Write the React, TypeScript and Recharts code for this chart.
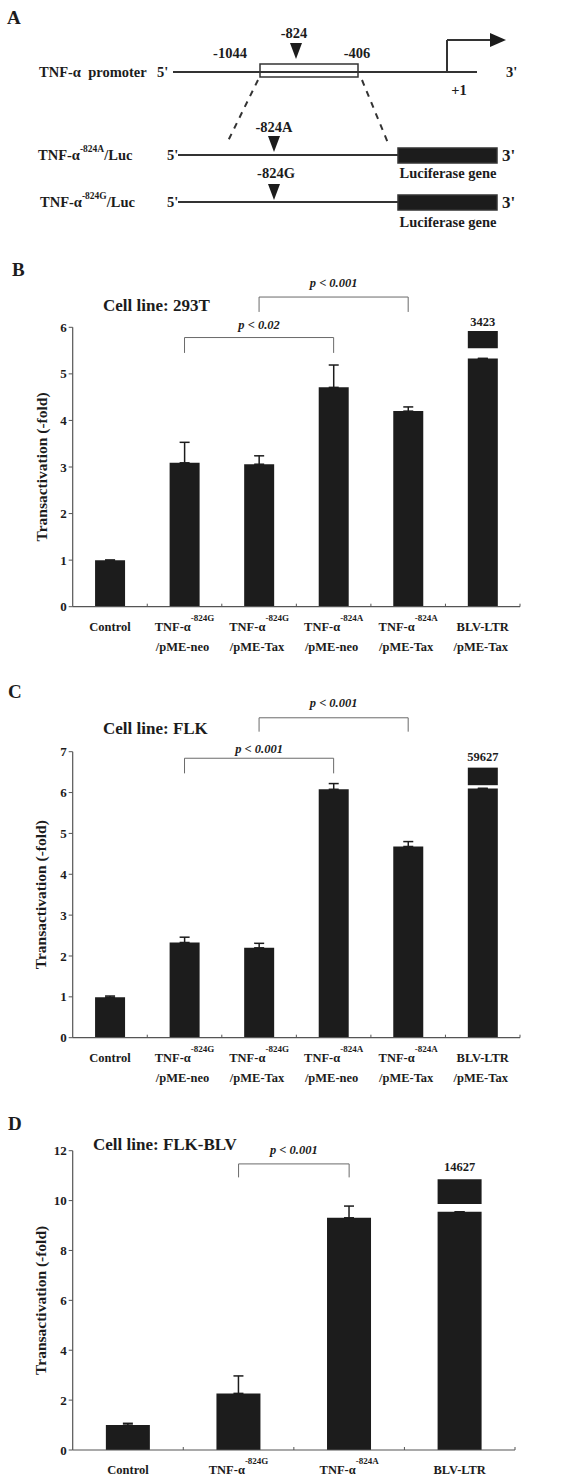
import React from "react";
import {
  BarChart,
  Bar,
  XAxis,
  YAxis,
  ErrorBar,
  LabelList,
  ReferenceLine,
  ReferenceArea,
  ReferenceDot,
  ComposedChart,
} from "recharts";

const FONT = "'Liberation Serif', 'Times New Roman', serif";
const INK = "#1c1c1c";
const AXIS = "#555";
const BRACKET = "#6a6a6a";

// ---------- panel A: construct schematic, laid out on a 576 x 240 grid ----------
const schemeLines = [
  { x1: 173, y1: 72, x2: 477, y2: 72 },
  { x1: 178, y1: 155, x2: 398, y2: 155 },
  { x1: 178, y1: 202, x2: 398, y2: 202 },
  { x1: 447, y1: 72, x2: 447, y2: 40 },
  { x1: 447, y1: 40, x2: 492, y2: 40 },
];
const schemeDashes = [
  { x1: 258, y1: 80, x2: 227, y2: 143 },
  { x1: 362, y1: 80, x2: 388, y2: 143 },
];
const schemeBoxes = [
  { x1: 260, x2: 358, y1: 64, y2: 77, fill: "#fff" },
  { x1: 398, x2: 497, y1: 148, y2: 163, fill: INK },
  { x1: 398, x2: 497, y1: 195, y2: 210, fill: INK },
];
const schemeMarkers = [
  { x: 296, y: 51 },
  { x: 274, y: 144 },
  { x: 274, y: 192 },
];
const schemeTexts = [
  { x: 39, y: 72, t: "TNF-α  promoter", anchor: "start" },
  { x: 157, y: 72, t: "5'", anchor: "start" },
  { x: 230, y: 53, t: "-1044", anchor: "middle" },
  { x: 294, y: 33, t: "-824", anchor: "middle" },
  { x: 357, y: 53, t: "-406", anchor: "middle" },
  { x: 459, y: 90, t: "+1", anchor: "middle" },
  { x: 506, y: 72, t: "3'", anchor: "start" },
  { x: 274, y: 127, t: "-824A", anchor: "middle" },
  { x: 167, y: 155, t: "5'", anchor: "start" },
  { x: 448, y: 173, t: "Luciferase gene", anchor: "middle" },
  { x: 276, y: 173, t: "-824G", anchor: "middle" },
  { x: 167, y: 202, t: "5'", anchor: "start" },
  { x: 448, y: 222, t: "Luciferase gene", anchor: "middle" },
];
const schemeEnds = [
  { x: 502, y: 155 },
  { x: 502, y: 202 },
];
const schemeConstructs = [
  { x: 38, y: 155, allele: "-824A" },
  { x: 40, y: 202, allele: "-824G" },
];

// ---------- panels B and C: categories ----------
const catsBC = [
  "Control",
  "TNF-α-824G/pME-neo",
  "TNF-α-824G/pME-Tax",
  "TNF-α-824A/pME-neo",
  "TNF-α-824A/pME-Tax",
  "BLV-LTR/pME-Tax",
];
const mainBC = ["Control", "TNF-α", "TNF-α", "TNF-α", "TNF-α", "BLV-LTR"];
const supBC = ["", "-824G", "-824G", "-824A", "-824A", ""];
const subBC = ["", "/pME-neo", "/pME-Tax", "/pME-neo", "/pME-Tax", "/pME-Tax"];

// panel B (293T)
const meanB = [1.0, 3.09, 3.06, 4.71, 4.2, 5.33];
const errB = [0, 0.44, 0.18, 0.48, 0.09, 0];
const breakB = [5.55, 5.92];
const breakLabelB = "3423";
const ticksB = [0, 1, 2, 3, 4, 5, 6];

// panel C (FLK)
const meanC = [0.99, 2.33, 2.2, 6.08, 4.68, 6.1];
const errC = [0.03, 0.13, 0.11, 0.14, 0.12, 0];
const breakC = [6.18, 6.61];
const breakLabelC = "59627";
const ticksC = [0, 1, 2, 3, 4, 5, 6, 7];

// panel D (FLK-BLV)
const catsD = ["Control", "TNF-α-824G", "TNF-α-824A", "BLV-LTR"];
const mainD = ["Control", "TNF-α", "TNF-α", "BLV-LTR"];
const supD = ["", "-824G", "-824A", ""];
const subD = ["", "", "", ""];
const meanD = [1.0, 2.27, 9.31, 9.55];
const errD = [0.07, 0.7, 0.47, 0];
const breakD = [9.86, 10.86];
const breakLabelD = "14627";
const ticksD = [0, 2, 4, 6, 8, 10, 12];

// significance brackets: category indexes, top and foot heights
const bracketsB = [
  { a: 1, b: 3, top: 5.78, foot: 5.45, text: "p < 0.02", lift: 9 },
  { a: 2, b: 4, top: 6.65, foot: 6.33, text: "p < 0.001", lift: 10.5 },
];
const bracketsC = [
  { a: 1, b: 3, top: 6.84, foot: 6.47, text: "p < 0.001", lift: 5 },
  { a: 2, b: 4, top: 7.83, foot: 7.49, text: "p < 0.001", lift: 11 },
];
const bracketsD = [{ a: 1, b: 2, top: 11.47, foot: 10.93, text: "p < 0.001", lift: 10 }];

const headings = [
  { t: "A", x: 7, y: 17, size: 19 },
  { t: "B", x: 12, y: 269, size: 19 },
  { t: "C", x: 8, y: 691, size: 19 },
  { t: "D", x: 8, y: 1123, size: 19 },
  { t: "Cell line: 293T", x: 103, y: 305, size: 17 },
  { t: "Cell line: FLK", x: 103, y: 728, size: 17 },
  { t: "Cell line: FLK-BLV", x: 93, y: 1144, size: 17 },
];

function buildRows(cats: string[], mean: number[], err: number[], brk: number[], brkLabel: string) {
  const last = cats.length - 1;
  return cats.map((cat, i) => ({
    cat,
    mean: mean[i],
    err: [0, err[i]],
    gap: i === last ? brk[0] - mean[i] : 0,
    cap: i === last ? brk[1] - brk[0] : 0,
    capLabel: i === last ? brkLabel : undefined,
  }));
}

// category labels (with superscript allele), plus the small ticks between categories
const catTick = (main: string[], sup: string[], sub: string[], step: number) => (props: any) => {
  const { x, y, index } = props;
  const last = index === main.length - 1;
  return (
    <g>
      {index > 0 ? <line x1={x - step / 2} x2={x - step / 2} y1={y} y2={y - 3} stroke={AXIS} /> : null}
      {last ? <line x1={x + step / 2} x2={x + step / 2} y1={y} y2={y - 3} stroke={AXIS} /> : null}
      <text x={x} y={y + 24} textAnchor="middle" fontSize={12.5} fontWeight={700} fill={INK} fontFamily={FONT}>
        {main[index]}
        {sup[index] ? (
          <tspan fontSize={9} dy={-10}>
            {sup[index]}
          </tspan>
        ) : null}
      </text>
      {sub[index] ? (
        <text x={x - 2} y={y + 44} textAnchor="middle" fontSize={12.5} fontWeight={700} fill={INK} fontFamily={FONT}>
          {sub[index]}
        </text>
      ) : null}
    </g>
  );
};

function bracketLines(cats: string[], br: any, key: string) {
  const xa = cats[br.a];
  const xb = cats[br.b];
  const common = { stroke: BRACKET, strokeWidth: 1, ifOverflow: "visible" as const };
  return [
    <ReferenceLine
      key={key + "h"}
      segment={[
        { x: xa, y: br.top },
        { x: xb, y: br.top },
      ]}
      {...common}
      label={{
        value: br.text,
        content: (p: any) => {
          const vb = p.viewBox || {};
          return (
            <text
              x={vb.x + vb.width / 2}
              y={vb.y - br.lift}
              textAnchor="middle"
              fontSize={12.5}
              fontWeight={700}
              fontStyle="italic"
              fill={INK}
              fontFamily={FONT}
            >
              {br.text}
            </text>
          );
        },
      }}
    />,
    <ReferenceLine
      key={key + "l"}
      segment={[
        { x: xa, y: br.top },
        { x: xa, y: br.foot },
      ]}
      {...common}
    />,
    <ReferenceLine
      key={key + "r"}
      segment={[
        { x: xb, y: br.top },
        { x: xb, y: br.foot },
      ]}
      {...common}
    />,
  ];
}

function BarPanel(props: any) {
  const { top, height, plotTop, plotBottom, right, rows, cats, main, sup, sub, ticks, brackets, labelOffset, tag } = props;
  const step = (576 - right - 72.7) / cats.length;
  return (
    <div style={{ position: "absolute", left: 0, top }}>
      <BarChart
        width={576}
        height={height}
        data={rows}
        margin={{ top: plotTop - top, right, bottom: 0, left: 0 }}
        barCategoryGap="30%"
      >
        <XAxis
          dataKey="cat"
          interval={0}
          tickLine={false}
          tickSize={0}
          tickMargin={0}
          height={top + height - plotBottom}
          axisLine={{ stroke: AXIS, strokeWidth: 1.2 }}
          tick={catTick(main, sup, sub, step)}
        />
        <YAxis
          domain={[0, ticks[ticks.length - 1]]}
          ticks={ticks}
          allowDataOverflow
          width={72.7}
          tickSize={4}
          tickMargin={2}
          axisLine={{ stroke: AXIS, strokeWidth: 1.2 }}
          tickLine={{ stroke: AXIS }}
          tick={{ fill: INK, fontSize: 13, fontWeight: 700, fontFamily: FONT }}
          label={{
            value: "Transactivation (-fold)",
            content: (p: any) => {
              const vb = p.viewBox || {};
              const cx = 41;
              const cy = vb.y + vb.height / 2;
              return (
                <text
                  x={cx}
                  y={cy}
                  transform={`rotate(-90 ${cx} ${cy})`}
                  textAnchor="middle"
                  dominantBaseline="central"
                  fontSize={15.5}
                  fontWeight={700}
                  fill={INK}
                  fontFamily={FONT}
                >
                  Transactivation (-fold)
                </text>
              );
            },
          }}
        />
        <Bar dataKey="mean" stackId="s" fill={INK} isAnimationActive={false}>
          <ErrorBar dataKey="err" direction="y" width={5} stroke={INK} strokeWidth={1.5} />
        </Bar>
        <Bar dataKey="gap" stackId="s" fill="none" isAnimationActive={false} />
        <Bar dataKey="cap" stackId="s" fill={INK} isAnimationActive={false}>
          <LabelList
            dataKey="capLabel"
            position="top"
            offset={labelOffset}
            fill={INK}
            fontSize={12.5}
            fontWeight={700}
            fontFamily={FONT}
          />
        </Bar>
        {brackets.flatMap((br: any, i: number) => bracketLines(cats, br, tag + i))}
      </BarChart>
    </div>
  );
}

function Scheme() {
  const tri = (hw: number, hh: number) => (p: any) =>
    <path d={`M${p.cx - hw},${p.cy - hh}L${p.cx + hw},${p.cy - hh}L${p.cx},${p.cy + hh}Z`} fill={INK} />;
  return (
    <div style={{ position: "absolute", left: 0, top: 0 }}>
      <ComposedChart width={576} height={240} data={[{ x: 0, y: 0 }, { x: 576, y: 240 }]} margin={{ top: 0, right: 0, bottom: 0, left: 0 }}>
        <XAxis type="number" dataKey="x" domain={[0, 576]} allowDataOverflow hide />
        <YAxis type="number" dataKey="y" domain={[0, 240]} allowDataOverflow reversed hide />
        {schemeLines.map((l, i) => (
          <ReferenceLine
            key={"l" + i}
            segment={[
              { x: l.x1, y: l.y1 },
              { x: l.x2, y: l.y2 },
            ]}
            stroke="#333"
            strokeWidth={2}
            ifOverflow="visible"
          />
        ))}
        {schemeDashes.map((l, i) => (
          <ReferenceLine
            key={"d" + i}
            segment={[
              { x: l.x1, y: l.y1 },
              { x: l.x2, y: l.y2 },
            ]}
            stroke="#333"
            strokeWidth={2}
            strokeDasharray="6 6"
            ifOverflow="visible"
          />
        ))}
        {schemeBoxes.map((b, i) => (
          <ReferenceArea
            key={"b" + i}
            x1={b.x1}
            x2={b.x2}
            y1={b.y1}
            y2={b.y2}
            fill={b.fill}
            fillOpacity={1}
            stroke="#333"
            strokeWidth={1.5}
            ifOverflow="visible"
          />
        ))}
        {schemeMarkers.map((m, i) => (
          <ReferenceDot key={"m" + i} x={m.x} y={m.y} r={6} ifOverflow="visible" shape={tri(6, 8)} />
        ))}
        <ReferenceDot
          x={498}
          y={40}
          r={7}
          ifOverflow="visible"
          shape={(p: any) => <path d={`M${p.cx - 8},${p.cy - 7}L${p.cx + 8},${p.cy}L${p.cx - 8},${p.cy + 7}Z`} fill={INK} />}
        />
        {schemeTexts.map((s, i) => (
          <ReferenceDot
            key={"t" + i}
            x={s.x}
            y={s.y}
            r={1}
            ifOverflow="visible"
            shape={(p: any) => (
              <text
                x={p.cx}
                y={p.cy}
                textAnchor={s.anchor}
                dominantBaseline="central"
                fontSize={14.5}
                fontWeight={700}
                fill={INK}
                fontFamily={FONT}
                style={{ whiteSpace: "pre" }}
              >
                {s.t}
              </text>
            )}
          />
        ))}
        {schemeEnds.map((s, i) => (
          <ReferenceDot
            key={"e" + i}
            x={s.x}
            y={s.y}
            r={1}
            ifOverflow="visible"
            shape={(p: any) => (
              <text x={p.cx} y={p.cy} dominantBaseline="central" fontSize={17} fontWeight={700} fill={INK} fontFamily={FONT}>
                3'
              </text>
            )}
          />
        ))}
        {schemeConstructs.map((s, i) => (
          <ReferenceDot
            key={"c" + i}
            x={s.x}
            y={s.y}
            r={1}
            ifOverflow="visible"
            shape={(p: any) => (
              <text x={p.cx} y={p.cy} dominantBaseline="central" fontSize={14.5} fontWeight={700} fill={INK} fontFamily={FONT}>
                TNF-α
                <tspan fontSize={9.5} dy={-6}>
                  {s.allele}
                </tspan>
                <tspan dy={6}>/Luc</tspan>
              </text>
            )}
          />
        ))}
      </ComposedChart>
    </div>
  );
}

export default function App() {
  return (
    <div
      style={{
        position: "absolute",
        left: 0,
        top: 0,
        width: 576,
        height: 1481,
        background: "#fff",
        fontFamily: FONT,
        color: INK,
        overflow: "hidden",
      }}
    >
      <Scheme />
      <BarPanel
        tag="B"
        top={250}
        height={420}
        plotTop={327.3}
        plotBottom={606.7}
        right={56}
        rows={buildRows(catsBC, meanB, errB, breakB, breakLabelB)}
        cats={catsBC}
        main={mainBC}
        sup={supBC}
        sub={subBC}
        ticks={ticksB}
        brackets={bracketsB}
        labelOffset={5}
      />
      <BarPanel
        tag="C"
        top={680}
        height={410}
        plotTop={751.7}
        plotBottom={1037.7}
        right={56}
        rows={buildRows(catsBC, meanC, errC, breakC, breakLabelC)}
        cats={catsBC}
        main={mainBC}
        sup={supBC}
        sub={subBC}
        ticks={ticksC}
        brackets={bracketsC}
        labelOffset={7}
      />
      <BarPanel
        tag="D"
        top={1090}
        height={391}
        plotTop={1150.7}
        plotBottom={1450}
        right={61}
        rows={buildRows(catsD, meanD, errD, breakD, breakLabelD)}
        cats={catsD}
        main={mainD}
        sup={supD}
        sub={subD}
        ticks={ticksD}
        brackets={bracketsD}
        labelOffset={8}
      />
      {headings.map((h) => (
        <div
          key={h.t}
          style={{
            position: "absolute",
            left: h.x,
            top: h.y - h.size / 2,
            fontSize: h.size,
            lineHeight: `${h.size}px`,
            fontWeight: 700,
            whiteSpace: "nowrap",
          }}
        >
          {h.t}
        </div>
      ))}
    </div>
  );
}
